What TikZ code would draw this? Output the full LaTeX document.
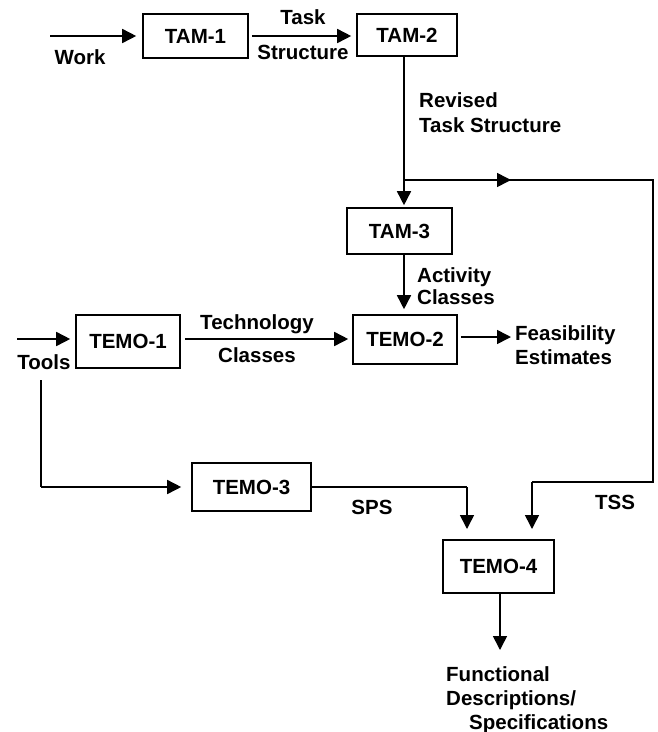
\documentclass[tikz,border=0pt]{standalone}
\usepackage{fontspec}
\setmainfont{Liberation Sans}
\usetikzlibrary{arrows.meta}
\begin{document}
\begin{tikzpicture}[x=1pt,y=-1pt,
  every node/.style={font=\bfseries\fontsize{20.5}{22}\selectfont, inner sep=0pt},
  box/.style={draw, line width=1.6pt},
  conn/.style={line width=1.6pt, -{Triangle[length=14pt,width=14pt]}},
  plain/.style={line width=1.6pt},
  lbl/.style={align=left}
]
\useasboundingbox (0,0) rectangle (657,732);
% boxes
\node[box, minimum width=105pt, minimum height=44pt] (tam1) at (195.5,36) {TAM-1};
\node[box, minimum width=100pt, minimum height=42pt] (tam2) at (407,35) {TAM-2};
\node[box, minimum width=105pt, minimum height=46pt] (tam3) at (399.5,231) {TAM-3};
\node[box, minimum width=104pt, minimum height=53pt] (temo1) at (128,341.5) {TEMO-1};
\node[box, minimum width=104pt, minimum height=49pt] (temo2) at (405,339.5) {TEMO-2};
\node[box, minimum width=119pt, minimum height=48pt] (temo3) at (251.5,487) {TEMO-3};
\node[box, minimum width=111pt, minimum height=53pt] (temo4) at (498.5,566.5) {TEMO-4};
% coordinates
\coordinate (workin) at (50,36);
\coordinate (toolsin) at (17,339);
\coordinate (br) at (404,180);
\coordinate (brmid) at (511,180);
\coordinate (rc) at (653,180);
\coordinate (rb) at (653,482);
\coordinate (tssl) at (532,482);
\coordinate (tsst) at (532,529);
\coordinate (tv) at (41,380);
\coordinate (tb) at (41,487);
\coordinate (spsr) at (467,487);
\coordinate (spst) at (467,529);
\coordinate (feasend) at (511,337);
\coordinate (outend) at (500,650);
% labels
\node at (80,57) {Work};
\node[align=center, font=\bfseries\fontsize{20.5}{35}\selectfont] at (303,34.5) {Task\\Structure};
\node[lbl, anchor=west, font=\bfseries\fontsize{20.5}{25}\selectfont] at (419,112.5) {Revised\\Task Structure};
\node[lbl, anchor=west, font=\bfseries\fontsize{20.5}{22}\selectfont] at (417,286) {Activity\\Classes};
\node[align=center, font=\bfseries\fontsize{20.5}{33}\selectfont] at (257,338.5) {Technology\\Classes};
\node[lbl, anchor=west, font=\bfseries\fontsize{20.5}{24}\selectfont] at (515,345) {Feasibility\\Estimates};
\node at (44,362) {Tools};
\node at (372,507) {SPS};
\node at (615,502) {TSS};
\node[lbl, anchor=north west, font=\bfseries\fontsize{20.5}{24}\selectfont] at (446,666) {Functional\\Descriptions/\\\hspace*{23pt}Specifications};
% connectors
\draw[conn, shorten >=6pt] (workin) -- (tam1.west |- workin);
\draw[conn, shorten <=3pt, shorten >=5pt] (tam1.east) -- (tam1.east -| tam2.west);
\draw[plain] (tam2.south -| br) -- (br);
\draw[conn, shorten >=2pt] (br) -- (br |- tam3.north);
\draw[conn] (br) -- (brmid);
\draw[plain] (br) -- (rc) -- (rb) -- (tssl);
\draw[conn] (tssl) -- (tsst);
\draw[conn, shorten >=5pt] (tam3.south -| br) -- (temo2.north -| br);
\draw[conn, shorten <=3pt] (temo2.east |- feasend) -- (feasend);
\draw[conn, shorten >=5pt] (toolsin) -- (temo1.west |- toolsin);
\draw[conn, shorten <=4pt, shorten >=4pt] (temo1.east |- toolsin) -- (temo2.west |- toolsin);
\draw[plain] (tv) -- (tb);
\draw[conn, shorten >=10pt] (tb) -- (temo3.west);
\draw[plain] (temo3.east) -- (spsr);
\draw[conn] (spsr) -- (spst);
\draw[conn] (temo4.south -| outend) -- (outend);
\end{tikzpicture}
\end{document}
